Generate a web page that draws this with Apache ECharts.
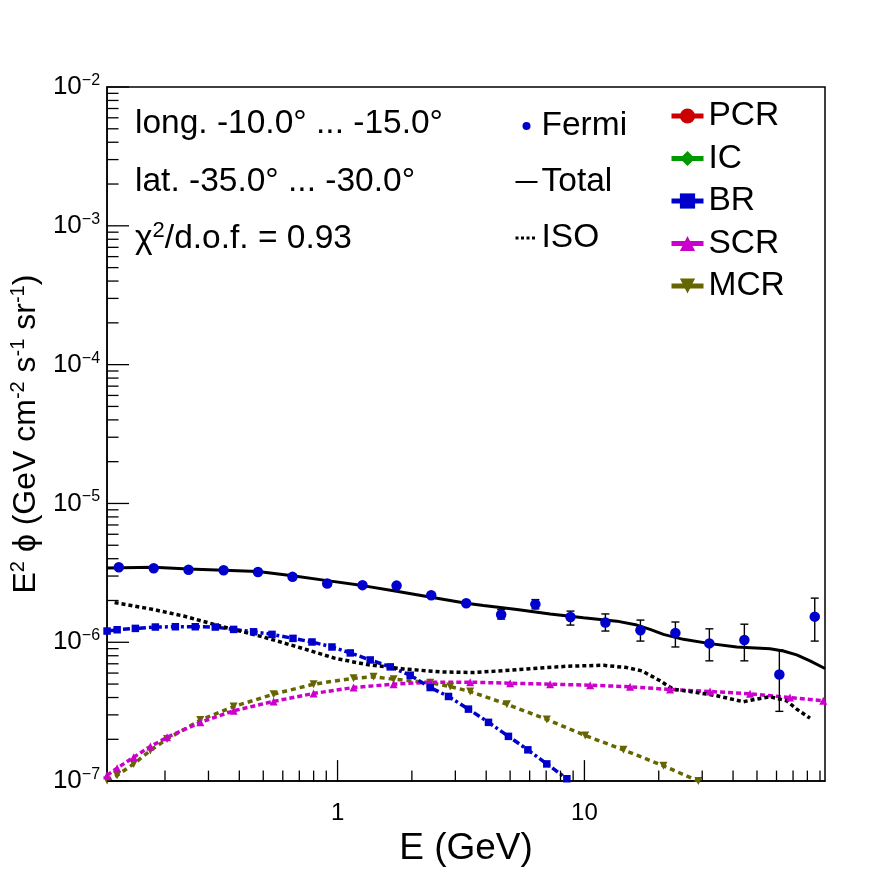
<!DOCTYPE html>
<html><head><meta charset="utf-8">
<script src="https://cdn.jsdelivr.net/npm/echarts@6/dist/echarts.min.js"></script>
<style>html,body{margin:0;padding:0;background:#fff}#c{width:896px;height:872px}</style>
</head><body><div id="c"></div>
<script>
// ---------- data ----------
const fermiE  = [0.130,0.180,0.249,0.3455,0.476,0.657,0.908,1.262,1.734,2.395,3.32,4.60,6.33,8.78,12.16,16.86,23.36,32.07,44.45,61.6,85.7];
const fermiV  = [3.47e-6,3.41e-6,3.33e-6,3.30e-6,3.21e-6,2.96e-6,2.65e-6,2.58e-6,2.56e-6,2.18e-6,1.91e-6,1.585e-6,1.88e-6,1.52e-6,1.39e-6,1.22e-6,1.166e-6,9.82e-7,1.04e-6,5.86e-7,1.53e-6];
const fermiLo = [3.37e-6,3.31e-6,3.23e-6,3.20e-6,3.11e-6,2.87e-6,2.57e-6,2.50e-6,2.48e-6,2.11e-6,1.85e-6,1.47e-6,1.74e-6,1.33e-6,1.205e-6,1.02e-6,9.25e-7,7.35e-7,7.35e-7,3.18e-7,1.02e-6];
const fermiHi = [3.57e-6,3.51e-6,3.43e-6,3.40e-6,3.31e-6,3.05e-6,2.73e-6,2.66e-6,2.64e-6,2.25e-6,1.97e-6,1.72e-6,2.03e-6,1.677e-6,1.60e-6,1.445e-6,1.40e-6,1.25e-6,1.35e-6,8.81e-7,2.08e-6];

const totalE = [0.1165,0.180,0.249,0.3455,0.476,0.657,0.908,1.262,1.734,2.395,3.32,3.90,5.33,7.26,9.91,13.53,16.30,18.45,20.89,25.17,32.28,41.40,56.47,63.93,72.43,82.0,94.3];
const totalV = [3.43e-6,3.47e-6,3.37e-6,3.30e-6,3.23e-6,3.02e-6,2.78e-6,2.56e-6,2.33e-6,2.11e-6,1.91e-6,1.84e-6,1.72e-6,1.60e-6,1.50e-6,1.42e-6,1.33e-6,1.24e-6,1.14e-6,1.05e-6,9.78e-7,9.25e-7,8.99e-7,8.66e-7,8.11e-7,7.34e-7,6.47e-7];

const isoE = [0.125,0.1745,0.238,0.3455,0.5016,0.706,0.979,1.315,1.85,2.605,3.553,5.66,8.49,11.94,14.85,17.08,20.25,22.93,28.52,34.36,44.02,51.45,56.47,65.97,72.43,82.0];
const isoV = [1.93e-6,1.74e-6,1.545e-6,1.29e-6,1.09e-6,9.14e-7,7.66e-7,6.91e-7,6.43e-7,6.12e-7,6.05e-7,6.39e-7,6.72e-7,6.83e-7,6.57e-7,6.22e-7,5.28e-7,4.59e-7,4.35e-7,4.12e-7,3.73e-7,3.94e-7,4.05e-7,3.79e-7,3.30e-7,2.84e-7];

const brE = [0.1165,0.128,0.1517,0.1828,0.2203,0.2653,0.3197,0.3793,0.457,0.5426,0.660,0.788,0.949,1.126,1.356,1.635,1.969,2.373,2.815,3.39,4.087,4.923,5.90,7.04,8.49];
const brV = [1.205e-6,1.231e-6,1.259e-6,1.288e-6,1.294e-6,1.294e-6,1.288e-6,1.238e-6,1.19e-6,1.14e-6,1.067e-6,1.005e-6,9.25e-7,8.38e-7,7.46e-7,6.65e-7,5.79e-7,4.72e-7,4.07e-7,3.30e-7,2.65e-7,2.10e-7,1.68e-7,1.33e-7,1.04e-7];

const scrE = [0.1165,0.128,0.1493,0.1745,0.2039,0.278,0.3793,0.5508,0.7995,1.161,1.686,2.373,3.445,5.003,7.26,10.55,15.31,22.23,32.28,46.87,68.04,92.8];
const scrV = [1.10e-7,1.24e-7,1.487e-7,1.774e-7,2.07e-7,2.65e-7,3.21e-7,3.75e-7,4.28e-7,4.72e-7,4.99e-7,5.16e-7,5.16e-7,5.07e-7,4.99e-7,4.91e-7,4.78e-7,4.57e-7,4.42e-7,4.26e-7,4.00e-7,3.79e-7];

const mcrE = [0.1165,0.128,0.1493,0.1745,0.2039,0.278,0.3793,0.5508,0.7995,1.161,1.399,1.686,2.373,2.86,3.445,4.85,7.04,10.07,14.39,20.89,28.94];
const mcrV = [1.01e-7,1.10e-7,1.33e-7,1.66e-7,2.01e-7,2.75e-7,3.44e-7,4.23e-7,4.99e-7,5.51e-7,5.64e-7,5.42e-7,5.11e-7,4.80e-7,4.42e-7,3.58e-7,2.78e-7,2.13e-7,1.68e-7,1.29e-7,1.0e-7];

const pcrE = []; const pcrV = [];
const icE = [];  const icV = [];

const xMajorTicks = [1, 10];
const xMinorTicks = [0.2,0.3,0.4,0.5,0.6,0.7,0.8,0.9,2,3,4,5,6,7,8,9,20,30,40,50,60,70,80,90];
const yMajorTicks = [1e-7,1e-6,1e-5,1e-4,1e-3,1e-2];
const yMinorTicks = [2e-7,3e-7,4e-7,5e-7,6e-7,7e-7,8e-7,9e-7,
                     2e-6,3e-6,4e-6,5e-6,6e-6,7e-6,8e-6,9e-6,
                     2e-5,3e-5,4e-5,5e-5,6e-5,7e-5,8e-5,9e-5,
                     2e-4,3e-4,4e-4,5e-4,6e-4,7e-4,8e-4,9e-4,
                     2e-3,3e-3,4e-3,5e-3,6e-3,7e-3,8e-3,9e-3];

const X_MIN = 0.1165, X_MAX = 94.3, Y_MIN = 1e-7, Y_MAX = 1e-2;

const infoLines = ['long. -10.0° ... -15.0°', 'lat. -35.0° ... -30.0°'];
const chiText = '0.93';

// ---------- chart ----------
const FONT = 'Liberation Sans, Arial, Helvetica, sans-serif';
const chart = echarts.init(document.getElementById('c'), null, {renderer: 'canvas'});
const pairs = (xs, ys) => xs.map((x, i) => [x, ys[i]]);

function tickSeries(name, vals, axis, len) {
  return {
    type: 'custom', name: name, silent: true, z: 10, clip: false,
    renderItem: function (params, api) {
      if (axis === 'x') {
        const p = api.coord([api.value(0), Y_MIN]);
        return {type: 'line', shape: {x1: p[0], y1: p[1], x2: p[0], y2: p[1] - len}, style: {stroke: '#000', lineWidth: 1.3}};
      }
      const p = api.coord([X_MIN, api.value(1)]);
      return {type: 'line', shape: {x1: p[0], y1: p[1], x2: p[0] + len, y2: p[1]}, style: {stroke: '#000', lineWidth: 1.3}};
    },
    data: axis === 'x' ? vals.map(v => [v, Y_MIN]) : vals.map(v => [X_MIN, v])
  };
}

const LFS = 33.5;
const option = {
  animation: false,
  backgroundColor: '#fff',
  textStyle: {fontFamily: FONT},
  grid: {left: 106.7, right: 71, top: 87, bottom: 88, show: true, borderColor: '#000', borderWidth: 1.5, containLabel: false},
  xAxis: {
    type: 'log', logBase: 10, min: X_MIN, max: X_MAX,
    axisLine: {show: true, lineStyle: {color: '#000', width: 1.5}},
    axisTick: {show: false}, splitLine: {show: false}, minorTick: {show: false},
    axisLabel: {
      color: '#000', fontSize: 24, fontFamily: FONT, margin: 20,
      formatter: function (v) {
        const l = Math.log10(v);
        return Math.abs(l - Math.round(l)) < 1e-6 ? String(Math.round(v)) : '';
      }
    },
    name: 'E (GeV)', nameLocation: 'middle', nameGap: 45,
    nameTextStyle: {color: '#000', fontSize: 37, fontFamily: FONT}
  },
  yAxis: {
    type: 'log', logBase: 10, min: Y_MIN, max: Y_MAX,
    axisLine: {show: true, lineStyle: {color: '#000', width: 1.5}},
    axisTick: {show: false}, splitLine: {show: false}, minorTick: {show: false},
    axisLabel: {
      color: '#000', margin: 7,
      formatter: function (v) {
        const e = Math.round(Math.log10(v));
        return '{b|10}{s|\u2212' + (-e) + '}';
      },
      rich: {
        b: {fontSize: 26, lineHeight: 29, fontFamily: FONT, color: '#000'},
        s: {fontSize: 16, lineHeight: 16, fontFamily: FONT, color: '#000', verticalAlign: 'top'}
      }
    },
    name: '{n|E}{s|2}{n| \u03d5 (GeV cm}{s|-2}{n| s}{s|-1}{n| sr}{s|-1}{n|)}',
    nameLocation: 'middle', nameRotate: 90, nameGap: 60,
    nameTextStyle: {
      color: '#000',
      rich: {
        n: {fontSize: 32, lineHeight: 36, fontFamily: FONT, color: '#000'},
        s: {fontSize: 20, lineHeight: 20, fontFamily: FONT, color: '#000', verticalAlign: 'top'}
      }
    }
  },
  legend: [
    {
      data: [{name: 'Fermi'},
             {name: 'Total', itemStyle: {opacity: 0}},
             {name: 'ISO', itemStyle: {opacity: 0}, lineStyle: {type: [3, 2.5], width: 3}}],
      orient: 'vertical', left: 509, top: 104, itemWidth: 22, itemHeight: 8, itemGap: 22,
      selectedMode: false,
      textStyle: {fontSize: LFS, fontFamily: FONT, color: '#000', padding: [0, 0, 0, -1]}
    },
    {
      data: ['PCR', 'IC', 'BR', 'SCR', 'MCR'],
      orient: 'vertical', left: 664, top: 94, itemWidth: 32, itemHeight: 19, itemGap: 8.5,
      selectedMode: false,
      lineStyle: {type: 'solid', width: 5},
      textStyle: {fontSize: LFS, fontFamily: FONT, color: '#000'}
    }
  ],
  graphic: [
    {type: 'text', x: 135, y: 123.5, silent: true, style: {text: infoLines[0], fontSize: LFS, fontFamily: FONT, fill: '#000', verticalAlign: 'middle'}},
    {type: 'text', x: 135, y: 181.5, silent: true, style: {text: infoLines[1], fontSize: LFS, fontFamily: FONT, fill: '#000', verticalAlign: 'middle'}},
    {type: 'text', x: 135, y: 238.5, silent: true, style: {
      text: '{a|\u03c7}{s|2}{a|/d.o.f. = ' + chiText + '}', verticalAlign: 'middle',
      rich: {
        a: {fontSize: LFS, lineHeight: 38, fontFamily: FONT, fill: '#000', color: '#000'},
        s: {fontSize: 22, lineHeight: 22, fontFamily: FONT, fill: '#000', color: '#000', verticalAlign: 'top'}
      }
    }}
  ],
  series: [
    {name: 'PCR', type: 'line', data: pairs(pcrE, pcrV), color: '#cc0000', symbol: 'circle', symbolSize: 8, lineStyle: {width: 3}},
    {name: 'IC', type: 'line', data: pairs(icE, icV), color: '#009900', symbol: 'diamond', symbolSize: 8, lineStyle: {width: 3}},
    {name: 'MCR', type: 'line', data: pairs(mcrE, mcrV), color: '#666600', symbol: 'triangle', symbolRotate: 180, symbolSize: 8,
      showAllSymbol: true, lineStyle: {width: 3.5, type: [5, 4]}, itemStyle: {color: '#666600'}},
    {name: 'SCR', type: 'line', data: pairs(scrE, scrV), color: '#cc00cc', symbol: 'triangle', symbolSize: 8,
      showAllSymbol: true, lineStyle: {width: 3.5, type: [5, 3]}, itemStyle: {color: '#cc00cc'}},
    {name: 'BR', type: 'line', data: pairs(brE, brV), color: '#0000cc', symbol: 'rect', symbolSize: 7.5,
      showAllSymbol: true, lineStyle: {width: 3.5, type: [7, 3, 3, 3]}, itemStyle: {color: '#0000cc'}},
    {name: 'ISO', type: 'line', data: pairs(isoE, isoV), color: '#000', symbol: 'none',
      lineStyle: {width: 3.5, type: [4, 3], color: '#000'}},
    {name: 'Total', type: 'line', data: pairs(totalE, totalV), color: '#000', symbol: 'none',
      lineStyle: {width: 3, color: '#000'}},
    {
      name: 'FermiErr', type: 'custom', silent: true, z: 4,
      encode: {x: 0, y: [1, 2]},
      data: fermiE.map((e, i) => [e, fermiLo[i], fermiHi[i]]),
      renderItem: function (params, api) {
        const x = api.value(0);
        const pl = api.coord([x, api.value(1)]);
        const ph = api.coord([x, api.value(2)]);
        const c = 4, st = {stroke: '#000', lineWidth: 1.4};
        return {type: 'group', children: [
          {type: 'line', shape: {x1: pl[0], y1: pl[1], x2: ph[0], y2: ph[1]}, style: st},
          {type: 'line', shape: {x1: pl[0] - c, y1: pl[1], x2: pl[0] + c, y2: pl[1]}, style: st},
          {type: 'line', shape: {x1: ph[0] - c, y1: ph[1], x2: ph[0] + c, y2: ph[1]}, style: st}
        ]};
      }
    },
    {name: 'Fermi', type: 'scatter', data: pairs(fermiE, fermiV), color: '#0000cc', symbol: 'circle', symbolSize: 10.5, z: 5,
      itemStyle: {color: '#0000cc', opacity: 1}},
    tickSeries('xMajor', xMajorTicks, 'x', 21),
    tickSeries('xMinor', xMinorTicks, 'x', 10.5),
    tickSeries('yMajor', yMajorTicks, 'y', 22),
    tickSeries('yMinor', yMinorTicks, 'y', 11.5)
  ]
};
chart.setOption(option);
</script>
</body></html>
